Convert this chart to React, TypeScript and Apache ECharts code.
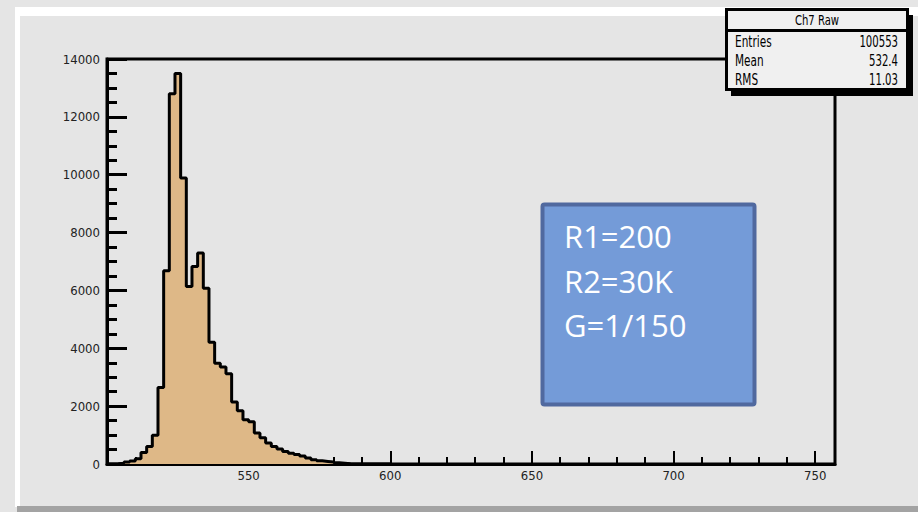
import React, { useEffect, useRef } from "react";
import * as echarts from "echarts";

// Histogram: lower edge of first bin, bin width, counts per bin (from 500 upward)
const binLow = 500;
const binWidth = 2;
const counts = [
  0, 10, 30, 70, 100, 180, 400, 604, 990, 2642,
  6678, 12800, 13497, 9889, 6132, 6830, 7295, 6073, 4212, 3480,
  3350, 3120, 2140, 1840, 1530, 1460, 1070, 910, 730, 604,
  520, 430, 370, 330, 280, 210, 150, 110, 90, 70,
  40, 25, 10, 0, 0, 0, 0, 0, 0, 0,
];

const xMin = 500;
const xMax = 757;
const yMin = 0;
const yMax = 14000;

const statsTitle = "Ch7 Raw";
const statsLabels = ["Entries", "Mean", "RMS"];
const statsValues = ["100553", "532.4", "11.03"];
const noteLines = ["R1=200", "R2=30K", "G=1/150"];

const NARROW = "'Liberation Sans Narrow', 'DejaVu Sans Condensed', 'Liberation Sans', Arial, sans-serif";

export default function App() {
  const ref = useRef<HTMLDivElement>(null);

  useEffect(() => {
    if (!ref.current) return;
    const chart = echarts.init(ref.current, undefined, { renderer: "svg" });

    const data: number[][] = counts.map((c, i) => [binLow + i * binWidth, c]);
    data.push([binLow + counts.length * binWidth, counts[counts.length - 1]]);

    const statsY = [42, 61, 80];

    const option: any = {
      animation: false,
      backgroundColor: "#e5e5e5",
      grid: {
        left: 107,
        right: 83,
        top: 59,
        bottom: 48,
        show: true,
        borderColor: "#000",
        borderWidth: 3,
        backgroundColor: "transparent",
      },
      xAxis: [
        {
          type: "value",
          min: xMin,
          max: xMax,
          interval: 10,
          axisLine: { show: true, onZero: false, lineStyle: { color: "#000", width: 3 } },
          axisTick: { show: true, inside: true, length: 7, lineStyle: { color: "#000", width: 2 } },
          axisLabel: { show: false },
          splitLine: { show: false },
        },
        {
          type: "value",
          position: "bottom",
          min: xMin,
          max: xMax,
          interval: 50,
          axisLine: { show: false },
          axisTick: { show: true, inside: true, length: 13, lineStyle: { color: "#000", width: 2 } },
          axisLabel: {
            show: true,
            margin: 5,
            fontSize: 13,
            fontFamily: NARROW,
            color: "#222",
            formatter: (v: number) => (v > xMin && v % 50 === 0 ? String(v) : ""),
          },
          splitLine: { show: false },
        },
      ],
      yAxis: {
        type: "value",
        min: yMin,
        max: yMax,
        interval: 2000,
        axisLine: { show: true, lineStyle: { color: "#000", width: 3 } },
        axisTick: { show: true, inside: true, length: 20, lineStyle: { color: "#000", width: 3 } },
        minorTick: { show: true, splitNumber: 4, length: 10, lineStyle: { color: "#000", width: 3 } },
        axisLabel: {
          margin: 7,
          fontSize: 13,
          fontFamily: NARROW,
          color: "#222",
          formatter: (v: number) => String(v),
        },
        splitLine: { show: false },
        minorSplitLine: { show: false },
      },
      series: [
        {
          type: "line",
          xAxisIndex: 0,
          step: "end",
          symbol: "none",
          data,
          lineStyle: { color: "#000", width: 3 },
          areaStyle: { color: "#deb887", opacity: 1 },
          z: 2,
        },
      ],
      graphic: [
        { type: "rect", z: 1, shape: { x: 15, y: 7, width: 903, height: 9 }, style: { fill: "#ffffff" } },
        { type: "rect", z: 1, shape: { x: 15, y: 7, width: 5, height: 500 }, style: { fill: "#ffffff" } },
        { type: "rect", z: 1, shape: { x: 17, y: 506, width: 901, height: 6 }, style: { fill: "#a3a3a3" } },
        // stats box
        { type: "rect", z: 100, shape: { x: 731, y: 15, width: 182, height: 81 }, style: { fill: "#000" } },
        {
          type: "rect",
          z: 101,
          shape: { x: 726.5, y: 9.5, width: 181, height: 80 },
          style: { fill: "#f0f0f0", stroke: "#000", lineWidth: 3 },
        },
        {
          type: "line",
          z: 102,
          shape: { x1: 726.5, y1: 30.5, x2: 907.5, y2: 30.5 },
          style: { stroke: "#000", lineWidth: 3 },
        },
        {
          type: "text",
          z: 103,
          x: 817,
          y: 20,
          scaleX: 0.8,
          style: { text: statsTitle, fontSize: 14, fontFamily: NARROW, fill: "#000", align: "center", verticalAlign: "middle" },
        },
        ...statsLabels.map((t, i) => ({
          type: "text",
          z: 103,
          x: 735,
          y: statsY[i],
          scaleX: 0.78,
          style: { text: t, fontSize: 15, fontFamily: NARROW, fill: "#000", align: "left", verticalAlign: "middle" },
        })),
        ...statsValues.map((t, i) => ({
          type: "text",
          z: 103,
          x: 898,
          y: statsY[i],
          scaleX: 0.75,
          style: { text: t, fontSize: 15, fontFamily: NARROW, fill: "#000", align: "right", verticalAlign: "middle" },
        })),
        // note box
        {
          type: "rect",
          z: 110,
          shape: { x: 542.5, y: 204.5, width: 212, height: 200, r: 2 },
          style: { fill: "#749bd8", stroke: "#50699f", lineWidth: 4 },
        },
        ...noteLines.map((t, i) => ({
          type: "text",
          z: 111,
          x: 564,
          y: 236 + i * 44.5,
          style: { text: t, fontSize: 31, fontFamily: "'Open Sans', 'Noto Sans', sans-serif", fill: "#ffffff", align: "left", verticalAlign: "middle" },
        })),
      ],
    };

    chart.setOption(option);
    return () => chart.dispose();
  }, []);

  return <div ref={ref} style={{ position: "fixed", left: 0, top: 0, width: 918, height: 512 }} />;
}
